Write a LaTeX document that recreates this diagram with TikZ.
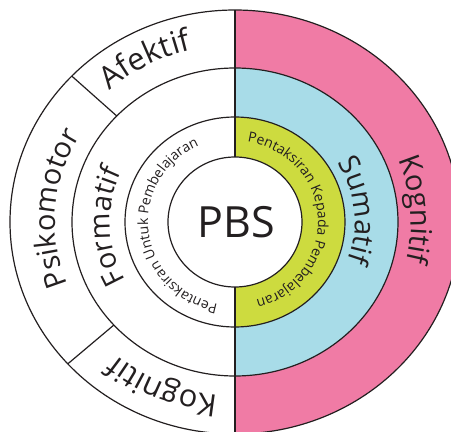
\documentclass[tikz,border=0pt]{standalone}
\usepackage{fontspec}
\setmainfont{Open Sans}
\usetikzlibrary{decorations.text}

\definecolor{kognitifpink}{RGB}{240,123,165}
\definecolor{sumatifblue}{RGB}{168,220,232}
\definecolor{kepadagreen}{RGB}{205,219,63}
\definecolor{ink}{RGB}{35,31,32}

\newcommand{\outerfont}{\fontsize{31}{31}\selectfont}
\newcommand{\sidefont}{\fontsize{29}{29}\selectfont}
\newcommand{\midfont}{\fontsize{28.5}{28.5}\selectfont}
\newcommand{\innerfont}{\fontsize{14}{14}\selectfont}
\newcommand{\pbsfont}{\fontsize{43}{43}\selectfont}

\tikzset{
  ring/.style={draw=ink, line width=1.2pt},
  ringlabel/.style={decorate, decoration={text along path, text align=center, text color=ink, text={#1}}},
}

\begin{document}
\begin{tikzpicture}[x=1pt, y=1pt]
    \useasboundingbox (-235,-210) rectangle (216,222);
    \clip (-235,-210) rectangle (216,222);

    % Separuh kanan
    \begin{scope}
      \clip (0,-230) rectangle (240,230);
      \fill[kognitifpink] (0,0) ellipse [x radius=225, y radius=212];
      \fill[sumatifblue] (0,0) ellipse [x radius=163, y radius=154];
      \fill[kepadagreen] (0,0) ellipse [x radius=110, y radius=105];
    \end{scope}

    % Cincin
    \draw[ring] (0,0) ellipse [x radius=225, y radius=212];
    \draw[ring] (0,0) ellipse [x radius=163, y radius=154];
    \draw[ring] (0,0) ellipse [x radius=110, y radius=105];
    \filldraw[ring, fill=white] (0,0) ellipse [x radius=67, y radius=65];

    % Garisan
    \draw[ring] (0,212) -- (0,65);
    \draw[ring] (0,-65) -- (0,-212);
    \draw[ring] (136.5:163 and 154) -- (136.5:225 and 212);
    \draw[ring] (222:163 and 154) -- (222:225 and 212);

    % Tengah
    \node[font=\pbsfont, text=ink] (pbs) at (1,0) {PBS};

    % Label kiri
    \path[ringlabel={|\outerfont|Afektif}] (178.7:187 and 177) arc[start angle=178.7, end angle=58.7, x radius=187, y radius=177];
    \path[ringlabel={|\sidefont|Psikomotor}] (235.5:180 and 170) arc[start angle=235.5, end angle=115.5, x radius=180, y radius=170];
    \path[ringlabel={|\outerfont|Kognitif}] (306.5:184 and 174) arc[start angle=306.5, end angle=186.5, x radius=184, y radius=174];
    \path[ringlabel={|\midfont|Formatif}] (242:125 and 119) arc[start angle=242, end angle=122, x radius=125, y radius=119];
    \path[ringlabel={|\innerfont|Pentaksiran Untuk Pembelajaran}] (286.5:87 and 84) arc[start angle=286.5, end angle=86.5, x radius=87, y radius=84];

    % Label kanan
    \path[ringlabel={|\sidefont|Kognitif}] (64:176 and 166) arc[start angle=64, end angle=-56, x radius=176, y radius=166];
    \path[ringlabel={|\midfont|Sumatif}] (65.5:120 and 114) arc[start angle=65.5, end angle=-54.5, x radius=120, y radius=114];
    \path[ringlabel={|\innerfont|Pentaksiran Kepada Pembelajaran}] (103:83 and 81) arc[start angle=103, end angle=-97, x radius=83, y radius=81];
\end{tikzpicture}
\end{document}
